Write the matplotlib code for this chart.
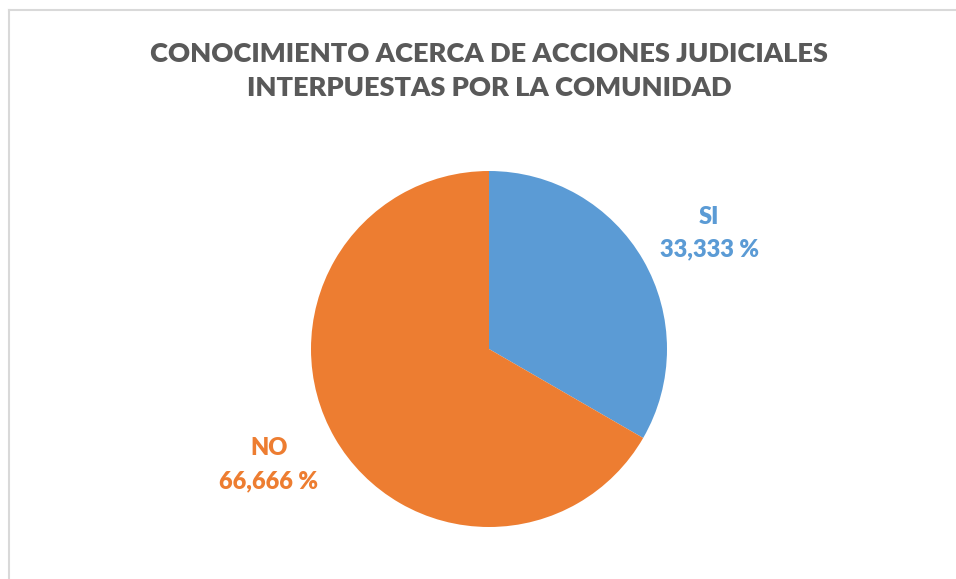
import matplotlib
matplotlib.use("Agg")
import matplotlib.pyplot as plt
from matplotlib.lines import Line2D

labels = ["SI", "NO"]
values = [33.333, 66.666]
pct_text = ["33,333 %", "66,666 %"]
colors = ["#5B9BD5", "#ED7D31"]

W, H = 956, 579
fig = plt.figure(figsize=(W / 100, H / 100), dpi=100)
fig.patch.set_facecolor("white")

# light grey chart frame: only top and left edges show in the source
fx, fy = 8.5 / W, 1 - 9.5 / H
fig.lines.append(Line2D([fx, 1], [fy, fy], transform=fig.transFigure, color="#D9D9D9", lw=1.5))
fig.lines.append(Line2D([fx, fx], [0, fy], transform=fig.transFigure, color="#D9D9D9", lw=1.5))

fig.text(489 / W, 1 - 71 / H, "CONOCIMIENTO ACERCA DE ACCIONES JUDICIALES\nINTERPUESTAS POR LA COMUNIDAD",
         ha="center", va="center", fontsize=19.6, fontweight="heavy", color="#595959",
         family="Lato", linespacing=1.5)

cx, cy, r = 489, 349, 178
ax = fig.add_axes([(cx - r) / W, (H - cy - r) / H, 2 * r / W, 2 * r / H])
wedges, texts = ax.pie(values, colors=colors, startangle=90, counterclock=False,
                       labels=[f"{l}\n{p}" for l, p in zip(labels, pct_text)],
                       labeldistance=1.40, radius=1,
                       wedgeprops=dict(linewidth=0))
for t, c in zip(texts, colors):
    x, y = t.get_position()
    t.set_position((x * 1.02, y * 0.93))
    t.set_ha("center"); t.set_va("center")
    t.set_color(c); t.set_fontsize(17); t.set_fontweight("heavy")
    t.set_family("Lato"); t.set_linespacing(1.6)
ax.set_xlim(-1, 1); ax.set_ylim(-1, 1)
ax.set_aspect("equal")

fig.savefig("out.png", dpi=100, facecolor="white")
